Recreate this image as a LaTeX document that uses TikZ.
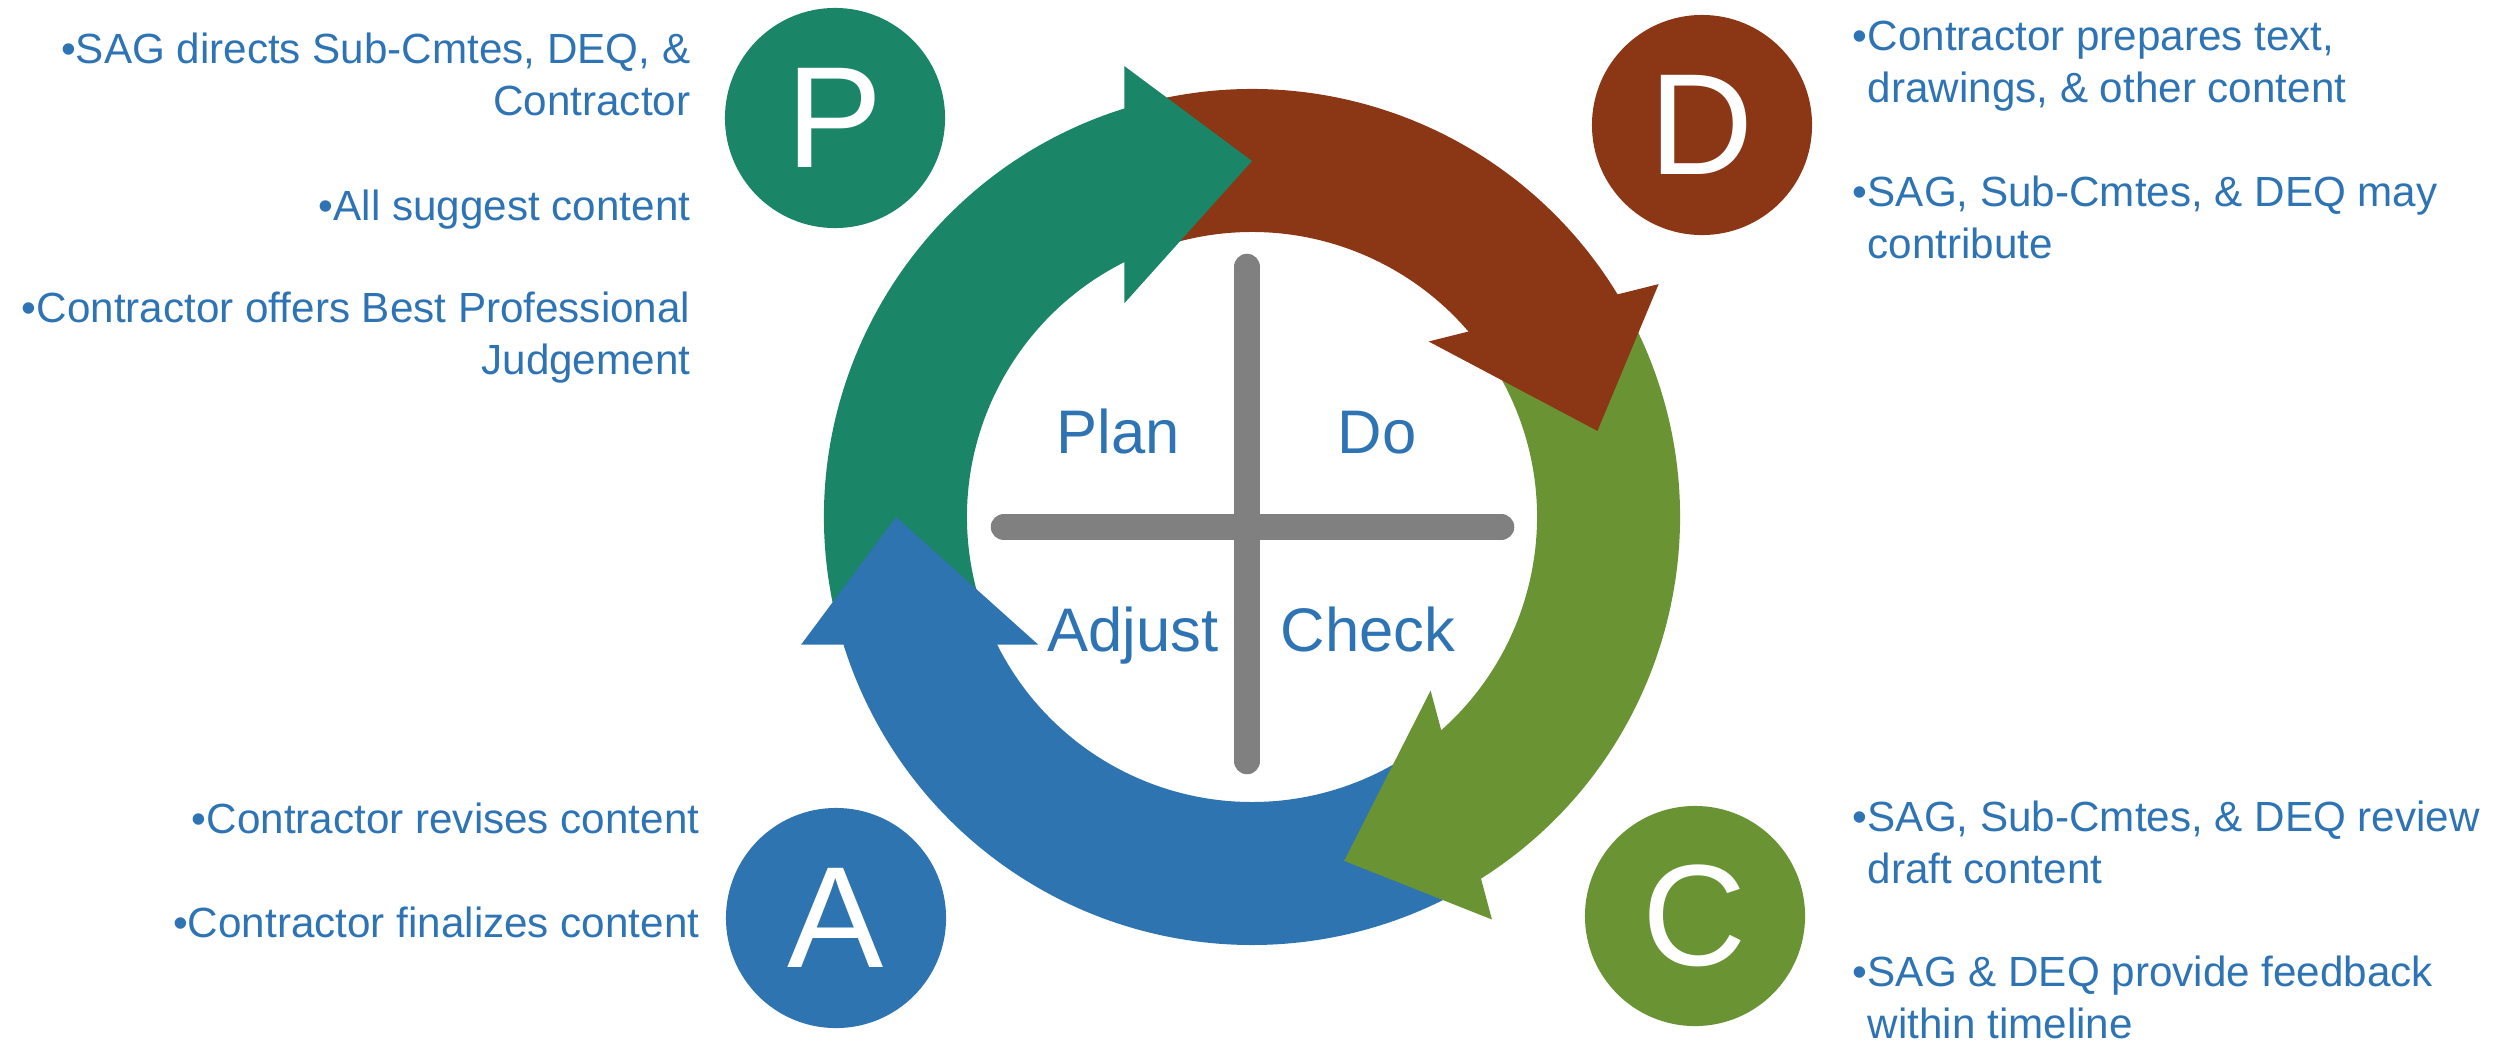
\documentclass[tikz,border=0pt]{standalone}
\usepackage{fontspec}
\setmainfont{Liberation Sans}
\usepackage{xcolor}
\usetikzlibrary{positioning}
\usetikzlibrary{calc}

\definecolor{plangreen}{HTML}{1A8567}
\definecolor{dobrown}{HTML}{8B3615}
\definecolor{checkolive}{HTML}{6A9333}
\definecolor{adjustblue}{HTML}{2E74B0}
\definecolor{textblue}{HTML}{2E74B5}
\definecolor{crossgray}{HTML}{808080}

\tikzset{
  bullettext/.style={font=\fontsize{12}{14.6}\selectfont, text=textblue, inner sep=0pt},
  stagelabel/.style={font=\fontsize{17.5}{21}\selectfont, text=textblue, inner sep=0pt, anchor=base},
  stageletter/.style={circle, minimum size=2.2cm, inner sep=0pt, text=white, font=\fontsize{41}{49}\selectfont},
  crossbar/.style={crossgray, line width=0.265cm, line cap=round}
}

% band of the cycle: colour, start angle, end angle
\newcommand{\cyclearc}[3]{%
  \fill[#1] ($(ring)+(#2:428)$) arc[start angle=#2, end angle=#3, radius=428]
    -- ($(ring)+(#3:285)$) arc[start angle=#3, end angle=#2, radius=285] -- cycle;}
% head of the cycle: colour, tip angle
\newcommand{\cyclehead}[2]{%
  \fill[#1] ($(ring)+(#2+21:356)+(#2:118.5)$) -- ($(ring)+(#2:356)$)
    -- ($(ring)+(#2+21:356)-(#2:118.5)$) -- cycle;}

\begin{document}
\begin{tikzpicture}[x=0.01cm, y=0.01cm]
        \useasboundingbox (0,0) rectangle (2501,1044);
        \coordinate (ring) at (1252,527);

        % Bands (P, D, C, A)
        \cyclearc{plangreen}{195}{105}
        \cyclearc{dobrown}{105}{29}
        \cyclearc{checkolive}{29}{-60}
        \cyclearc{adjustblue}{300}{195}

        % Heads on top
        \cyclehead{plangreen}{90}
        \cyclehead{dobrown}{14}
        \cyclehead{checkolive}{-75}
        \cyclehead{adjustblue}{180}

        % Cross in the middle
        \draw[crossbar] (1247,777) -- (1247,283);
        \draw[crossbar] (1004,517) -- (1501,517);

        \node[stagelabel] (planlabel) at (1118,591) {Plan};
        \node[stagelabel] (dolabel) at (1377,591) {Do};
        \node[stagelabel] (adjustlabel) at (1133,393) {Adjust};
        \node[stagelabel] (checklabel) at (1368,393) {Check};

        % Letter circles
        \node[stageletter, fill=plangreen] (plan) at (835,926) {P};
        \node[stageletter, fill=dobrown] (do) at (1702,919) {D};
        \node[stageletter, fill=checkolive] (check) at (1695,128) {C};
        \node[stageletter, fill=adjustblue] (adjust) at (836,126) {A};

        % Plan notes (base is the last line)
        \node[bullettext, align=right, anchor=base east] (plan1) at (691,929) {•SAG directs Sub-Cmtes, DEQ, \&\\Contractor};
        \node[bullettext, align=right, anchor=base east] (plan2) at (691,824) {•All suggest content};
        \node[bullettext, align=right, anchor=base east] (plan3) at (691,670) {•Contractor offers Best Professional\\Judgement};

        % Do notes
        \node[bullettext, align=left, anchor=base west] (do1) at (1867,942) {\llap{•}Contractor prepares text,\\drawings, \& other content};
        \node[bullettext, align=left, anchor=base west] (do2) at (1867,786) {\llap{•}SAG, Sub-Cmtes, \& DEQ may\\contribute};

        % Check notes
        \node[bullettext, align=left, anchor=base west] (check1) at (1867,161) {\llap{•}SAG, Sub-Cmtes, \& DEQ review\\draft content};
        \node[bullettext, align=left, anchor=base west] (check2) at (1867,6) {\llap{•}SAG \& DEQ provide feedback\\within timeline};

        % Adjust notes
        \node[bullettext, align=right, anchor=base east] (adjust1) at (700,211) {•Contractor revises content};
        \node[bullettext, align=right, anchor=base east] (adjust2) at (700,107) {•Contractor finalizes content};
    \end{tikzpicture}
\end{document}
